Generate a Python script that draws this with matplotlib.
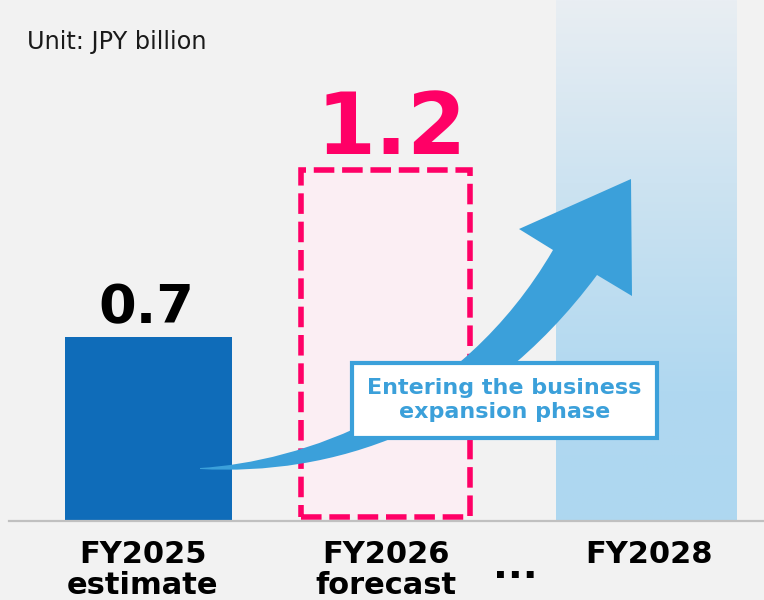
import matplotlib
matplotlib.use("Agg")
import matplotlib.pyplot as plt
import numpy as np
from matplotlib.colors import LinearSegmentedColormap
from matplotlib.patches import PathPatch, Rectangle
from matplotlib.path import Path

# data
categories = ["FY2025\nestimate", "FY2026\nforecast", "FY2028"]
values = [0.7, 1.2]
value_labels = ["0.7", "1.2"]
unit_text = "Unit: JPY billion"
callout_text = "Entering the business\nexpansion phase"

# the forecast box in the original is drawn taller than its value
forecast_box_top = 1.335

# layout (pixel-ish x units, figure is 764 px wide)
centers = [148.5, 385.5, 646.5]
widths = [167, 169, 181]
px_per_unit = 184 / 0.7
base_row = 521          # pixel row of the zero line

BG = "#f2f2f2"
BLUE = "#0f6cb9"
PINK = "#ff0066"
PINK_FILL = "#fbeef3"
ARROW = "#3ba0da"

fig = plt.figure(figsize=(7.64, 6.0), dpi=100, facecolor=BG)
ax = fig.add_axes([0, 0, 1, 1])
ax.set_facecolor(BG)
ax.set_xlim(0, 764)
ax.set_ylim((base_row - 600) / px_per_unit, base_row / px_per_unit)
ax.axis("off")

# FY2025 bar
ax.bar(centers[0], values[0], width=widths[0], color=BLUE, zorder=2)

# FY2026 dashed forecast box
ax.bar(centers[1], forecast_box_top - 0.015, bottom=0.015, width=widths[1],
       color=PINK_FILL, edgecolor=PINK, linewidth=4, linestyle=(0, (3.7, 1.4)),
       zorder=2)

# FY2028 gradient bar up to the top
top_val = base_row / px_per_unit
grad = LinearSegmentedColormap.from_list(
    "g", [(0.0, "#aed7f0"), (0.25, "#b0d8f0"), (0.65, "#cde3f1"), (1.0, "#e9eef3")])
ax.imshow(np.linspace(0, 1, 256).reshape(-1, 1), cmap=grad, origin="lower",
          extent=[centers[2] - widths[2] / 2, centers[2] + widths[2] / 2, 0, top_val],
          aspect="auto", zorder=1)

# baseline
ax.axhline(0, xmin=9 / 764, xmax=1, color="#c0c0c0", linewidth=1.6, zorder=3)

# value labels
ax.annotate(value_labels[0], (centers[0] - 2, values[0]), xytext=(0, 10),
            textcoords="offset points", ha="center", va="baseline",
            fontsize=39, fontweight="bold", color="black", zorder=5)
ax.annotate(value_labels[1], (centers[1] + 6, forecast_box_top), xytext=(0, 11.5),
            textcoords="offset points", ha="center", va="baseline",
            fontsize=61, fontweight="bold", color=PINK, zorder=5)

# decoration layer in pixel coordinates
deco = fig.add_axes([0, 0, 1, 1])
deco.set_xlim(0, 764)
deco.set_ylim(600, 0)
deco.axis("off")
deco.patch.set_alpha(0)

deco.text(27, 49, unit_text, fontsize=17.3, color="#1a1a1a", ha="left", va="baseline")

# curved growth arrow
verts = [(200, 468), (300, 462), (460, 410), (553, 250),
         (519, 229), (631, 179), (632, 296), (597, 275),
         (480, 432), (330, 476), (200, 469), (200, 468)]
codes = [Path.MOVETO, Path.CURVE4, Path.CURVE4, Path.CURVE4,
         Path.LINETO, Path.LINETO, Path.LINETO, Path.LINETO,
         Path.CURVE4, Path.CURVE4, Path.CURVE4, Path.CLOSEPOLY]
deco.add_patch(PathPatch(Path(verts, codes), facecolor=ARROW, edgecolor="none", zorder=4))

# callout box
deco.add_patch(Rectangle((352, 363), 305, 75, facecolor="white", edgecolor=ARROW,
                         linewidth=3, zorder=6))
deco.text(504.5, 378, callout_text, ha="center", va="top", fontsize=16,
          fontweight="bold", color=ARROW, linespacing=1.25, zorder=7)

# category labels
label_x = [143, 386, 649]
for x, lab in zip(label_x, categories):
    deco.text(x, 540, lab, ha="center", va="top", fontsize=22, fontweight="bold",
              color="black", linespacing=1.1)
deco.text(515, 578, "...", ha="center", va="baseline", fontsize=28,
          fontweight="bold", color="black")

fig.savefig("out.png", dpi=100, facecolor=BG)
